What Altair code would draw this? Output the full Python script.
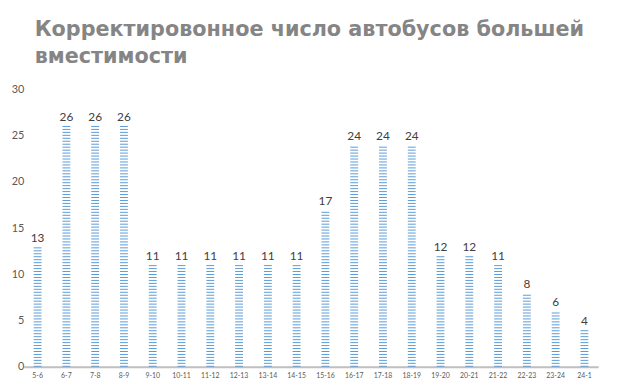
import altair as alt
import numpy as np
import pandas as pd

categories = ["5-6", "6-7", "7-8", "8-9", "9-10", "10-11", "11-12", "12-13", "13-14",
              "14-15", "15-16", "16-17", "17-18", "18-19", "19-20", "20-21", "21-22",
              "22-23", "23-24", "24-1"]
values = [13, 26, 26, 26, 11, 11, 11, 11, 11, 11, 17, 24, 24, 24, 12, 12, 11, 8, 6, 4]

title_lines = ["Корректировонное число автобусов большей", "вместимости"]
y_ticks = [0, 5, 10, 15, 20, 25, 30]

df = pd.DataFrame({"cat": categories, "val": values})

PLOT_H = 281
Y_MAX = 30
px_per_unit = PLOT_H / Y_MAX

# striped fill (Excel "narrow horizontal" pattern): a 1px line every 3px
rows = []
for c, v in zip(categories, values):
    k = 0
    while True:
        s = (3 * k + 0.5) / px_per_unit
        if s > v:
            break
        rows.append({"cat": c, "s": s})
        k += 1
stripes = pd.DataFrame(rows)

BLUE = "#5B9BD5"
xenc = alt.X("cat:N", sort=categories, title=None,
             scale=alt.Scale(paddingInner=0.726, paddingOuter=0.343),
             axis=alt.Axis(labelAngle=0, labelFontSize=7, labelColor="#595959",
                           labelFont="Lato", domainColor="#BFBFBF", domainWidth=2,
                           ticks=False, labelPadding=5))
yscale = alt.Scale(domain=[0, Y_MAX], nice=False)

stripe_layer = alt.Chart(stripes).mark_tick(
    orient="horizontal", thickness=1, color=BLUE, opacity=1
).encode(
    x=xenc,
    y=alt.Y("s:Q", scale=yscale, title=None,
            axis=alt.Axis(values=y_ticks, domain=False, ticks=False, grid=False,
                          labelFontSize=11, labelColor="#595959", labelFont="Lato",
                          labelPadding=0)),
)

label_layer = alt.Chart(df).mark_text(
    dy=-9, fontSize=12, color="#404040", font="Lato"
).encode(
    x=alt.X("cat:N", sort=categories),
    y=alt.Y("val:Q", scale=yscale),
    text="val:Q",
)

chart = alt.layer(stripe_layer, label_layer).properties(
    width=582,
    height=PLOT_H,
    autosize=alt.AutoSizeParams(type="none"),
    padding={"left": 16, "top": 80, "right": 18, "bottom": 20},
    title=alt.Title(title_lines, anchor="start", frame="group", font="DejaVu Sans",
                    fontSize=21, fontWeight="bold", color="#858585", offset=17,
                    dx=11, lineHeight=27),
).configure_view(stroke=None).configure_tick(bandSize=8)

chart.save("out.html", embed_options={"renderer": "svg", "actions": False})
